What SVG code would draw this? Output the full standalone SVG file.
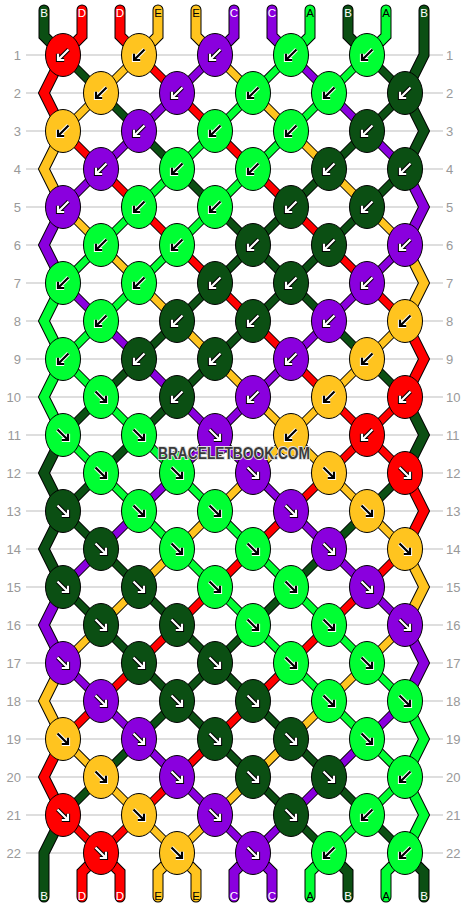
<svg xmlns="http://www.w3.org/2000/svg" width="468" height="908" viewBox="0 0 468 908">
<style>
.rl{stroke:#bdbdbd;stroke-width:1}
.rn{font-family:"Liberation Sans",Arial,sans-serif;font-size:13px;fill:#999}
.rnl{text-anchor:end}
.lb{font-family:"Liberation Sans",Arial,sans-serif;font-size:11.5px;text-anchor:middle}
.lw{fill:#fff}.lk{fill:#000}
.od{fill:none;stroke:#000;stroke-width:8.8}
.cd{fill:none;stroke-width:6.8}
.ow{fill:none;stroke:#000;stroke-width:11;stroke-linecap:round}
.cw{fill:none;stroke-width:9;stroke-linecap:round}
.sB{stroke:#0b4f13}.sD{stroke:#ff0000}.sE{stroke:#ffc41f}.sC{stroke:#8a00de}.sA{stroke:#00ff33}
.n{stroke:#000;stroke-width:1}
.fB{fill:#0b4f13}.fD{fill:#ff0000}.fE{fill:#ffc41f}.fC{fill:#8a00de}.fA{fill:#00ff33}
.a1{fill:none;stroke-width:4.2}
.a2{fill:none;stroke-width:2.2}
.k{stroke:#000}.w{stroke:#fff}
.wm{font-family:"Liberation Sans",Arial,sans-serif;font-weight:bold;font-size:16px;fill:#3a3a3a;stroke:#e2e2e2;stroke-width:2;paint-order:stroke;text-anchor:middle}
</style>
<defs>
<path id="pb" d="M5.5,-5.5L-5,5M-5,-1.2V5H1.2"/>
<path id="pf" d="M-5.5,-5.5L5,5M5,-1.2V5H-1.2"/>
<g id="bw"><use href="#pb" class="a1 k"/><use href="#pb" class="a2 w"/></g>
<g id="bk"><use href="#pb" class="a1 w"/><use href="#pb" class="a2 k"/></g>
<g id="fw"><use href="#pf" class="a1 k"/><use href="#pf" class="a2 w"/></g>
<g id="fk"><use href="#pf" class="a1 w"/><use href="#pf" class="a2 k"/></g>
<path id="dB" d="M63 55l38 38M367 55l38 38M101 93l38 38M405 93l-38 38M139 131l38 38M367 131l-38 38M177 169l38 38M329 169l-38 38M405 169l-38 38M215 207l38 38M291 207l-38 38M367 207l-38 38M253 245l-38 38M253 245l38 38M329 245l-38 38M215 283l-38 38M291 283l-38 38M291 283l38 38M177 321l-38 38M253 321l-38 38M329 321l38 38M139 359l-38 38M215 359l-38 38M367 359l38 38M101 397l-38 38M177 397l-38 38M139 435l-38 38M101 473l-38 38M405 473l-38 38M63 511l38 38M367 511l-38 38M101 549l38 38M329 549l-38 38M63 587l38 38M139 587l38 38M291 587l-38 38M101 625l38 38M177 625l38 38M253 625l-38 38M139 663l38 38M215 663l-38 38M215 663l38 38M177 701l-38 38M177 701l38 38M253 701l38 38M139 739l-38 38M215 739l38 38M291 739l38 38M101 777l-38 38M253 777l38 38M329 777l38 38M291 815l38 38M367 815l38 38"/>
<path id="dD" d="M139 55l38 38M177 93l38 38M63 131l38 38M215 131l38 38M101 169l38 38M253 169l38 38M139 207l38 38M291 207l38 38M177 245l38 38M329 245l38 38M215 283l38 38M367 283l38 38M253 321l38 38M291 359l38 38M329 397l38 38M405 397l-38 38M367 435l-38 38M367 435l38 38M329 473l-38 38M291 511l-38 38M253 549l-38 38M405 549l-38 38M215 587l-38 38M367 587l-38 38M177 625l-38 38M329 625l-38 38M139 663l-38 38M291 663l-38 38M101 701l-38 38M253 701l-38 38M215 739l-38 38M177 777l-38 38M63 815l38 38M139 815l-38 38"/>
<path id="dE" d="M139 55l-38 38M215 55l38 38M101 93l-38 38M253 93l38 38M291 131l38 38M329 169l38 38M63 207l38 38M367 207l38 38M101 245l38 38M139 283l38 38M177 321l38 38M405 321l-38 38M215 359l38 38M367 359l-38 38M253 397l38 38M329 397l-38 38M291 435l-38 38M291 435l38 38M253 473l-38 38M329 473l38 38M215 511l-38 38M367 511l38 38M177 549l-38 38M139 587l-38 38M101 625l-38 38M405 625l-38 38M367 663l-38 38M329 701l-38 38M63 739l38 38M291 739l-38 38M101 777l38 38M253 777l-38 38M139 815l38 38M215 815l-38 38"/>
<path id="dC" d="M215 55l-38 38M291 55l38 38M177 93l-38 38M329 93l38 38M139 131l-38 38M367 131l38 38M101 169l-38 38M405 245l-38 38M63 283l38 38M367 283l-38 38M101 321l38 38M329 321l-38 38M139 359l38 38M291 359l-38 38M177 397l38 38M253 397l-38 38M215 435l-38 38M215 435l38 38M177 473l-38 38M253 473l38 38M139 511l-38 38M291 511l38 38M101 549l-38 38M329 549l38 38M367 587l38 38M63 663l38 38M101 701l38 38M405 701l-38 38M139 739l38 38M367 739l-38 38M177 777l38 38M329 777l-38 38M215 815l38 38M291 815l-38 38"/>
<path id="dA" d="M291 55l-38 38M367 55l-38 38M253 93l-38 38M329 93l-38 38M215 131l-38 38M291 131l-38 38M177 169l-38 38M253 169l-38 38M139 207l-38 38M215 207l-38 38M101 245l-38 38M177 245l-38 38M139 283l-38 38M101 321l-38 38M63 359l38 38M101 397l38 38M63 435l38 38M139 435l38 38M101 473l38 38M177 473l38 38M139 511l38 38M215 511l38 38M177 549l38 38M253 549l38 38M215 587l38 38M291 587l38 38M253 625l38 38M329 625l38 38M291 663l38 38M367 663l38 38M329 701l38 38M367 739l38 38M405 777l-38 38M367 815l-38 38"/>
<path id="wB" d="M44 10V36L63 55M348 10V36L367 55M424 10V55L405 93M405 93L424 131L405 169M405 397L424 435L405 473M63 435L44 473L63 511M63 511L44 549L63 587M63 815L44 853V897M329 853L348 872V897M405 853L424 872V897"/>
<path id="wD" d="M82 10V36L63 55M120 10V36L139 55M63 55L44 93L63 131M405 321L424 359L405 397M405 473L424 511L405 549M63 739L44 777L63 815M101 853L82 872V897M101 853L120 872V897"/>
<path id="wE" d="M158 10V36L139 55M196 10V36L215 55M63 131L44 169L63 207M405 245L424 283L405 321M405 549L424 587L405 625M63 663L44 701L63 739M177 853L158 872V897M177 853L196 872V897"/>
<path id="wC" d="M234 10V36L215 55M272 10V36L291 55M63 207L44 245L63 283M405 169L424 207L405 245M405 625L424 663L405 701M63 587L44 625L63 663M253 853L234 872V897M253 853L272 872V897"/>
<path id="wA" d="M310 10V36L291 55M386 10V36L367 55M63 283L44 321L63 359M63 359L44 397L63 435M405 701L424 739L405 777M405 777L424 815L405 853M329 853L310 872V897M405 853L386 872V897"/>
</defs>
<rect width="468" height="908" fill="#fff"/>
<g id="rows">
<path class="rl" d="M26 55H443M26 93H443M26 131H443M26 169H443M26 207H443M26 245H443M26 283H443M26 321H443M26 359H443M26 397H443M26 435H443M26 473H443M26 511H443M26 549H443M26 587H443M26 625H443M26 663H443M26 701H443M26 739H443M26 777H443M26 815H443M26 853H443"/>
<g class="rn rnl">
<text x="21" y="59.5">1</text><text x="21" y="97.5">2</text><text x="21" y="135.5">3</text><text x="21" y="173.5">4</text><text x="21" y="211.5">5</text><text x="21" y="249.5">6</text><text x="21" y="287.5">7</text><text x="21" y="325.5">8</text><text x="21" y="363.5">9</text><text x="21" y="401.5">10</text><text x="21" y="439.5">11</text><text x="21" y="477.5">12</text><text x="21" y="515.5">13</text><text x="21" y="553.5">14</text><text x="21" y="591.5">15</text><text x="21" y="629.5">16</text><text x="21" y="667.5">17</text><text x="21" y="705.5">18</text><text x="21" y="743.5">19</text><text x="21" y="781.5">20</text><text x="21" y="819.5">21</text><text x="21" y="857.5">22</text>
</g>
<g class="rn">
<text x="446" y="59.5">1</text><text x="446" y="97.5">2</text><text x="446" y="135.5">3</text><text x="446" y="173.5">4</text><text x="446" y="211.5">5</text><text x="446" y="249.5">6</text><text x="446" y="287.5">7</text><text x="446" y="325.5">8</text><text x="446" y="363.5">9</text><text x="446" y="401.5">10</text><text x="446" y="439.5">11</text><text x="446" y="477.5">12</text><text x="446" y="515.5">13</text><text x="446" y="553.5">14</text><text x="446" y="591.5">15</text><text x="446" y="629.5">16</text><text x="446" y="667.5">17</text><text x="446" y="705.5">18</text><text x="446" y="743.5">19</text><text x="446" y="781.5">20</text><text x="446" y="819.5">21</text><text x="446" y="857.5">22</text>
</g>
</g>
<g id="connectors">
<use href="#wB" class="ow"/><use href="#wD" class="ow"/><use href="#wE" class="ow"/><use href="#wC" class="ow"/><use href="#wA" class="ow"/>
<use href="#wB" class="cw sB"/><use href="#wD" class="cw sD"/><use href="#wE" class="cw sE"/><use href="#wC" class="cw sC"/><use href="#wA" class="cw sA"/>
<use href="#dB" class="od"/><use href="#dD" class="od"/><use href="#dE" class="od"/><use href="#dC" class="od"/><use href="#dA" class="od"/>
<use href="#dB" class="cd sB"/><use href="#dD" class="cd sD"/><use href="#dE" class="cd sE"/><use href="#dC" class="cd sC"/><use href="#dA" class="cd sA"/>
</g>
<g id="labels" class="lb">
<text class="lw" x="44" y="17">B</text><text class="lw" x="82" y="17">D</text><text class="lw" x="120" y="17">D</text><text class="lk" x="158" y="17">E</text><text class="lk" x="196" y="17">E</text><text class="lw" x="234" y="17">C</text><text class="lw" x="272" y="17">C</text><text class="lk" x="310" y="17">A</text><text class="lw" x="348" y="17">B</text><text class="lk" x="386" y="17">A</text><text class="lw" x="424" y="17">B</text>
<text class="lw" x="44" y="900">B</text><text class="lw" x="82" y="900">D</text><text class="lw" x="120" y="900">D</text><text class="lk" x="158" y="900">E</text><text class="lk" x="196" y="900">E</text><text class="lw" x="234" y="900">C</text><text class="lw" x="272" y="900">C</text><text class="lk" x="310" y="900">A</text><text class="lw" x="348" y="900">B</text><text class="lk" x="386" y="900">A</text><text class="lw" x="424" y="900">B</text>
</g>
<g id="knots">
<g id="k1_1" transform="translate(63 55)"><ellipse class="n fD" rx="17.5" ry="21.5"/><use href="#bw"/></g>
<g id="k1_2" transform="translate(139 55)"><ellipse class="n fE" rx="17.5" ry="21.5"/><use href="#bk"/></g>
<g id="k1_3" transform="translate(215 55)"><ellipse class="n fC" rx="17.5" ry="21.5"/><use href="#bw"/></g>
<g id="k1_4" transform="translate(291 55)"><ellipse class="n fA" rx="17.5" ry="21.5"/><use href="#bk"/></g>
<g id="k1_5" transform="translate(367 55)"><ellipse class="n fA" rx="17.5" ry="21.5"/><use href="#bk"/></g>
<g id="k2_1" transform="translate(101 93)"><ellipse class="n fE" rx="17.5" ry="21.5"/><use href="#bk"/></g>
<g id="k2_2" transform="translate(177 93)"><ellipse class="n fC" rx="17.5" ry="21.5"/><use href="#bw"/></g>
<g id="k2_3" transform="translate(253 93)"><ellipse class="n fA" rx="17.5" ry="21.5"/><use href="#bk"/></g>
<g id="k2_4" transform="translate(329 93)"><ellipse class="n fA" rx="17.5" ry="21.5"/><use href="#bk"/></g>
<g id="k2_5" transform="translate(405 93)"><ellipse class="n fB" rx="17.5" ry="21.5"/><use href="#bw"/></g>
<g id="k3_1" transform="translate(63 131)"><ellipse class="n fE" rx="17.5" ry="21.5"/><use href="#bk"/></g>
<g id="k3_2" transform="translate(139 131)"><ellipse class="n fC" rx="17.5" ry="21.5"/><use href="#bw"/></g>
<g id="k3_3" transform="translate(215 131)"><ellipse class="n fA" rx="17.5" ry="21.5"/><use href="#bk"/></g>
<g id="k3_4" transform="translate(291 131)"><ellipse class="n fA" rx="17.5" ry="21.5"/><use href="#bk"/></g>
<g id="k3_5" transform="translate(367 131)"><ellipse class="n fB" rx="17.5" ry="21.5"/><use href="#bw"/></g>
<g id="k4_1" transform="translate(101 169)"><ellipse class="n fC" rx="17.5" ry="21.5"/><use href="#bw"/></g>
<g id="k4_2" transform="translate(177 169)"><ellipse class="n fA" rx="17.5" ry="21.5"/><use href="#bk"/></g>
<g id="k4_3" transform="translate(253 169)"><ellipse class="n fA" rx="17.5" ry="21.5"/><use href="#bk"/></g>
<g id="k4_4" transform="translate(329 169)"><ellipse class="n fB" rx="17.5" ry="21.5"/><use href="#bw"/></g>
<g id="k4_5" transform="translate(405 169)"><ellipse class="n fB" rx="17.5" ry="21.5"/><use href="#bw"/></g>
<g id="k5_1" transform="translate(63 207)"><ellipse class="n fC" rx="17.5" ry="21.5"/><use href="#bw"/></g>
<g id="k5_2" transform="translate(139 207)"><ellipse class="n fA" rx="17.5" ry="21.5"/><use href="#bk"/></g>
<g id="k5_3" transform="translate(215 207)"><ellipse class="n fA" rx="17.5" ry="21.5"/><use href="#bk"/></g>
<g id="k5_4" transform="translate(291 207)"><ellipse class="n fB" rx="17.5" ry="21.5"/><use href="#bw"/></g>
<g id="k5_5" transform="translate(367 207)"><ellipse class="n fB" rx="17.5" ry="21.5"/><use href="#bw"/></g>
<g id="k6_1" transform="translate(101 245)"><ellipse class="n fA" rx="17.5" ry="21.5"/><use href="#bk"/></g>
<g id="k6_2" transform="translate(177 245)"><ellipse class="n fA" rx="17.5" ry="21.5"/><use href="#bk"/></g>
<g id="k6_3" transform="translate(253 245)"><ellipse class="n fB" rx="17.5" ry="21.5"/><use href="#bw"/></g>
<g id="k6_4" transform="translate(329 245)"><ellipse class="n fB" rx="17.5" ry="21.5"/><use href="#bw"/></g>
<g id="k6_5" transform="translate(405 245)"><ellipse class="n fC" rx="17.5" ry="21.5"/><use href="#bw"/></g>
<g id="k7_1" transform="translate(63 283)"><ellipse class="n fA" rx="17.5" ry="21.5"/><use href="#bk"/></g>
<g id="k7_2" transform="translate(139 283)"><ellipse class="n fA" rx="17.5" ry="21.5"/><use href="#bk"/></g>
<g id="k7_3" transform="translate(215 283)"><ellipse class="n fB" rx="17.5" ry="21.5"/><use href="#bw"/></g>
<g id="k7_4" transform="translate(291 283)"><ellipse class="n fB" rx="17.5" ry="21.5"/><use href="#bw"/></g>
<g id="k7_5" transform="translate(367 283)"><ellipse class="n fC" rx="17.5" ry="21.5"/><use href="#bw"/></g>
<g id="k8_1" transform="translate(101 321)"><ellipse class="n fA" rx="17.5" ry="21.5"/><use href="#bk"/></g>
<g id="k8_2" transform="translate(177 321)"><ellipse class="n fB" rx="17.5" ry="21.5"/><use href="#bw"/></g>
<g id="k8_3" transform="translate(253 321)"><ellipse class="n fB" rx="17.5" ry="21.5"/><use href="#bw"/></g>
<g id="k8_4" transform="translate(329 321)"><ellipse class="n fC" rx="17.5" ry="21.5"/><use href="#bw"/></g>
<g id="k8_5" transform="translate(405 321)"><ellipse class="n fE" rx="17.5" ry="21.5"/><use href="#bk"/></g>
<g id="k9_1" transform="translate(63 359)"><ellipse class="n fA" rx="17.5" ry="21.5"/><use href="#bk"/></g>
<g id="k9_2" transform="translate(139 359)"><ellipse class="n fB" rx="17.5" ry="21.5"/><use href="#bw"/></g>
<g id="k9_3" transform="translate(215 359)"><ellipse class="n fB" rx="17.5" ry="21.5"/><use href="#bw"/></g>
<g id="k9_4" transform="translate(291 359)"><ellipse class="n fC" rx="17.5" ry="21.5"/><use href="#bw"/></g>
<g id="k9_5" transform="translate(367 359)"><ellipse class="n fE" rx="17.5" ry="21.5"/><use href="#bk"/></g>
<g id="k10_1" transform="translate(101 397)"><ellipse class="n fA" rx="17.5" ry="21.5"/><use href="#fk"/></g>
<g id="k10_2" transform="translate(177 397)"><ellipse class="n fB" rx="17.5" ry="21.5"/><use href="#bw"/></g>
<g id="k10_3" transform="translate(253 397)"><ellipse class="n fC" rx="17.5" ry="21.5"/><use href="#bw"/></g>
<g id="k10_4" transform="translate(329 397)"><ellipse class="n fE" rx="17.5" ry="21.5"/><use href="#bk"/></g>
<g id="k10_5" transform="translate(405 397)"><ellipse class="n fD" rx="17.5" ry="21.5"/><use href="#bw"/></g>
<g id="k11_1" transform="translate(63 435)"><ellipse class="n fA" rx="17.5" ry="21.5"/><use href="#fk"/></g>
<g id="k11_2" transform="translate(139 435)"><ellipse class="n fA" rx="17.5" ry="21.5"/><use href="#fk"/></g>
<g id="k11_3" transform="translate(215 435)"><ellipse class="n fC" rx="17.5" ry="21.5"/><use href="#fw"/></g>
<g id="k11_4" transform="translate(291 435)"><ellipse class="n fE" rx="17.5" ry="21.5"/><use href="#bk"/></g>
<g id="k11_5" transform="translate(367 435)"><ellipse class="n fD" rx="17.5" ry="21.5"/><use href="#bw"/></g>
<g id="k12_1" transform="translate(101 473)"><ellipse class="n fA" rx="17.5" ry="21.5"/><use href="#fk"/></g>
<g id="k12_2" transform="translate(177 473)"><ellipse class="n fA" rx="17.5" ry="21.5"/><use href="#fk"/></g>
<g id="k12_3" transform="translate(253 473)"><ellipse class="n fC" rx="17.5" ry="21.5"/><use href="#fw"/></g>
<g id="k12_4" transform="translate(329 473)"><ellipse class="n fE" rx="17.5" ry="21.5"/><use href="#fk"/></g>
<g id="k12_5" transform="translate(405 473)"><ellipse class="n fD" rx="17.5" ry="21.5"/><use href="#fw"/></g>
<g id="k13_1" transform="translate(63 511)"><ellipse class="n fB" rx="17.5" ry="21.5"/><use href="#fw"/></g>
<g id="k13_2" transform="translate(139 511)"><ellipse class="n fA" rx="17.5" ry="21.5"/><use href="#fk"/></g>
<g id="k13_3" transform="translate(215 511)"><ellipse class="n fA" rx="17.5" ry="21.5"/><use href="#fk"/></g>
<g id="k13_4" transform="translate(291 511)"><ellipse class="n fC" rx="17.5" ry="21.5"/><use href="#fw"/></g>
<g id="k13_5" transform="translate(367 511)"><ellipse class="n fE" rx="17.5" ry="21.5"/><use href="#fk"/></g>
<g id="k14_1" transform="translate(101 549)"><ellipse class="n fB" rx="17.5" ry="21.5"/><use href="#fw"/></g>
<g id="k14_2" transform="translate(177 549)"><ellipse class="n fA" rx="17.5" ry="21.5"/><use href="#fk"/></g>
<g id="k14_3" transform="translate(253 549)"><ellipse class="n fA" rx="17.5" ry="21.5"/><use href="#fk"/></g>
<g id="k14_4" transform="translate(329 549)"><ellipse class="n fC" rx="17.5" ry="21.5"/><use href="#fw"/></g>
<g id="k14_5" transform="translate(405 549)"><ellipse class="n fE" rx="17.5" ry="21.5"/><use href="#fk"/></g>
<g id="k15_1" transform="translate(63 587)"><ellipse class="n fB" rx="17.5" ry="21.5"/><use href="#fw"/></g>
<g id="k15_2" transform="translate(139 587)"><ellipse class="n fB" rx="17.5" ry="21.5"/><use href="#fw"/></g>
<g id="k15_3" transform="translate(215 587)"><ellipse class="n fA" rx="17.5" ry="21.5"/><use href="#fk"/></g>
<g id="k15_4" transform="translate(291 587)"><ellipse class="n fA" rx="17.5" ry="21.5"/><use href="#fk"/></g>
<g id="k15_5" transform="translate(367 587)"><ellipse class="n fC" rx="17.5" ry="21.5"/><use href="#fw"/></g>
<g id="k16_1" transform="translate(101 625)"><ellipse class="n fB" rx="17.5" ry="21.5"/><use href="#fw"/></g>
<g id="k16_2" transform="translate(177 625)"><ellipse class="n fB" rx="17.5" ry="21.5"/><use href="#fw"/></g>
<g id="k16_3" transform="translate(253 625)"><ellipse class="n fA" rx="17.5" ry="21.5"/><use href="#fk"/></g>
<g id="k16_4" transform="translate(329 625)"><ellipse class="n fA" rx="17.5" ry="21.5"/><use href="#fk"/></g>
<g id="k16_5" transform="translate(405 625)"><ellipse class="n fC" rx="17.5" ry="21.5"/><use href="#fw"/></g>
<g id="k17_1" transform="translate(63 663)"><ellipse class="n fC" rx="17.5" ry="21.5"/><use href="#fw"/></g>
<g id="k17_2" transform="translate(139 663)"><ellipse class="n fB" rx="17.5" ry="21.5"/><use href="#fw"/></g>
<g id="k17_3" transform="translate(215 663)"><ellipse class="n fB" rx="17.5" ry="21.5"/><use href="#fw"/></g>
<g id="k17_4" transform="translate(291 663)"><ellipse class="n fA" rx="17.5" ry="21.5"/><use href="#fk"/></g>
<g id="k17_5" transform="translate(367 663)"><ellipse class="n fA" rx="17.5" ry="21.5"/><use href="#fk"/></g>
<g id="k18_1" transform="translate(101 701)"><ellipse class="n fC" rx="17.5" ry="21.5"/><use href="#fw"/></g>
<g id="k18_2" transform="translate(177 701)"><ellipse class="n fB" rx="17.5" ry="21.5"/><use href="#fw"/></g>
<g id="k18_3" transform="translate(253 701)"><ellipse class="n fB" rx="17.5" ry="21.5"/><use href="#fw"/></g>
<g id="k18_4" transform="translate(329 701)"><ellipse class="n fA" rx="17.5" ry="21.5"/><use href="#fk"/></g>
<g id="k18_5" transform="translate(405 701)"><ellipse class="n fA" rx="17.5" ry="21.5"/><use href="#fk"/></g>
<g id="k19_1" transform="translate(63 739)"><ellipse class="n fE" rx="17.5" ry="21.5"/><use href="#fk"/></g>
<g id="k19_2" transform="translate(139 739)"><ellipse class="n fC" rx="17.5" ry="21.5"/><use href="#fw"/></g>
<g id="k19_3" transform="translate(215 739)"><ellipse class="n fB" rx="17.5" ry="21.5"/><use href="#fw"/></g>
<g id="k19_4" transform="translate(291 739)"><ellipse class="n fB" rx="17.5" ry="21.5"/><use href="#fw"/></g>
<g id="k19_5" transform="translate(367 739)"><ellipse class="n fA" rx="17.5" ry="21.5"/><use href="#fk"/></g>
<g id="k20_1" transform="translate(101 777)"><ellipse class="n fE" rx="17.5" ry="21.5"/><use href="#fk"/></g>
<g id="k20_2" transform="translate(177 777)"><ellipse class="n fC" rx="17.5" ry="21.5"/><use href="#fw"/></g>
<g id="k20_3" transform="translate(253 777)"><ellipse class="n fB" rx="17.5" ry="21.5"/><use href="#fw"/></g>
<g id="k20_4" transform="translate(329 777)"><ellipse class="n fB" rx="17.5" ry="21.5"/><use href="#fw"/></g>
<g id="k20_5" transform="translate(405 777)"><ellipse class="n fA" rx="17.5" ry="21.5"/><use href="#bk"/></g>
<g id="k21_1" transform="translate(63 815)"><ellipse class="n fD" rx="17.5" ry="21.5"/><use href="#fw"/></g>
<g id="k21_2" transform="translate(139 815)"><ellipse class="n fE" rx="17.5" ry="21.5"/><use href="#fk"/></g>
<g id="k21_3" transform="translate(215 815)"><ellipse class="n fC" rx="17.5" ry="21.5"/><use href="#fw"/></g>
<g id="k21_4" transform="translate(291 815)"><ellipse class="n fB" rx="17.5" ry="21.5"/><use href="#fw"/></g>
<g id="k21_5" transform="translate(367 815)"><ellipse class="n fA" rx="17.5" ry="21.5"/><use href="#bk"/></g>
<g id="k22_1" transform="translate(101 853)"><ellipse class="n fD" rx="17.5" ry="21.5"/><use href="#fw"/></g>
<g id="k22_2" transform="translate(177 853)"><ellipse class="n fE" rx="17.5" ry="21.5"/><use href="#fk"/></g>
<g id="k22_3" transform="translate(253 853)"><ellipse class="n fC" rx="17.5" ry="21.5"/><use href="#fw"/></g>
<g id="k22_4" transform="translate(329 853)"><ellipse class="n fA" rx="17.5" ry="21.5"/><use href="#bk"/></g>
<g id="k22_5" transform="translate(405 853)"><ellipse class="n fA" rx="17.5" ry="21.5"/><use href="#bk"/></g>
</g>
<text id="watermark" class="wm" x="234" y="458.5" textLength="152" lengthAdjust="spacingAndGlyphs">BRACELETBOOK.COM</text>
</svg>
